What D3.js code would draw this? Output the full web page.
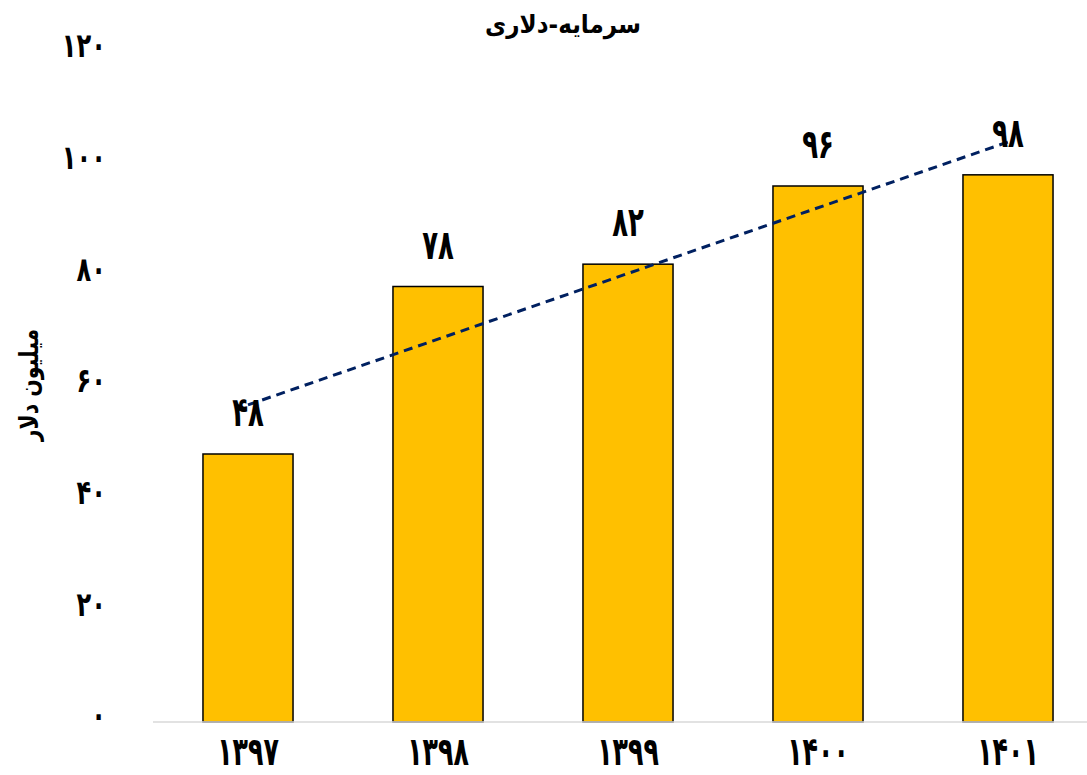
<!DOCTYPE html>
<html><head><meta charset="utf-8">
<script src="https://cdn.jsdelivr.net/npm/d3@7"></script>
<style>body{margin:0;background:#fff;} svg{display:block;}</style>
</head><body>
<svg id="c" width="1087" height="775"></svg>
<script>
const categories = ["۱۳۹۷", "۱۳۹۸", "۱۳۹۹", "۱۴۰۰", "۱۴۰۱"];
const values = [48, 78, 82, 96, 98];
const yTicks = [0, 20, 40, 60, 80, 100, 120];
const title = "سرمایه-دلاری";
const yTitle = "میلیون دلار";

const fa = n => String(n).replace(/[0-9]/g, d => "۰۱۲۳۴۵۶۷۸۹"[+d]);
const FONT = "'DejaVu Sans', 'Noto Sans', sans-serif";

const svg = d3.select("#c");
const x = d3.scaleBand().domain(categories).range([153, 1103]).paddingInner(0.526).paddingOuter(0.263);
const y = d3.scaleLinear().domain([0, 120]).range([722, 52]);
const cx = i => x(categories[i]) + x.bandwidth() / 2;

// bars
svg.append("g").selectAll("rect").data(values).join("rect")
  .attr("x", (d, i) => x(categories[i]))
  .attr("y", d => y(d))
  .attr("width", x.bandwidth())
  .attr("height", d => y(0) - y(d))
  .attr("fill", "#FFC000")
  .attr("stroke", "#000").attr("stroke-width", 1.5);

// axis line
svg.append("line").attr("x1", 153).attr("x2", 1087).attr("y1", y(0)).attr("y2", y(0))
  .attr("stroke", "#d9d9d9").attr("stroke-width", 1.5);

// y tick labels
const yAxis = d3.axisLeft(y).tickValues(yTicks).tickSize(0).tickPadding(0).tickFormat(fa);
const ga = svg.append("g").attr("transform", "translate(106,-6)").call(yAxis);
ga.select(".domain").remove();
ga.selectAll("text").attr("font-family", FONT).attr("font-weight", "bold")
  .attr("font-size", 21).attr("fill", "#000")
  .attr("transform", "scale(1.15,1.6)");

// x labels
const xAxis = d3.axisBottom(x).tickSize(0).tickPadding(0);
const gx = svg.append("g").attr("transform", "translate(0,765)").call(xAxis);
gx.select(".domain").remove();
gx.selectAll("text").attr("font-family", FONT).attr("font-weight", "bold")
  .attr("font-size", 23).attr("fill", "#000")
  .attr("y", 0).attr("dy", 0)
  .attr("transform", "scale(1.1,1.72)");

// linear trendline (least squares on values)
const n = values.length;
const xs = values.map((d, i) => i + 1);
const mx = d3.mean(xs), my = d3.mean(values);
const slope = d3.sum(xs.map((xi, i) => (xi - mx) * (values[i] - my))) / d3.sum(xs.map(xi => (xi - mx) ** 2));
const icpt = my - slope * mx;
svg.append("line")
  .attr("x1", cx(0)).attr("y1", y(icpt + slope * 1))
  .attr("x2", cx(n - 1) + 2).attr("y2", y(icpt + slope * n))
  .attr("stroke", "#002060").attr("stroke-width", 3).attr("stroke-dasharray", "9,6");

// data labels
svg.append("g").selectAll("text").data(values).join("text")
  .attr("transform", (d, i) => `translate(${cx(i)},${y(d) - 28}) scale(1.08,1.7)`)
  .attr("text-anchor", "middle")
  .attr("font-family", FONT).attr("font-weight", "bold").attr("font-size", 24)
  .text(d => fa(d));

// title
svg.append("text").attr("transform", "translate(563,33) scale(1.05,1.15)").attr("text-anchor", "middle")
  .attr("font-family", FONT).attr("font-weight", "bold").attr("font-size", 22).text(title);

// y title
svg.append("text").attr("transform", "translate(38,385) rotate(-90) scale(1.02,1.3)")
  .attr("text-anchor", "middle")
  .attr("font-family", FONT).attr("font-weight", "bold").attr("font-size", 20).text(yTitle);
</script>
</body></html>
